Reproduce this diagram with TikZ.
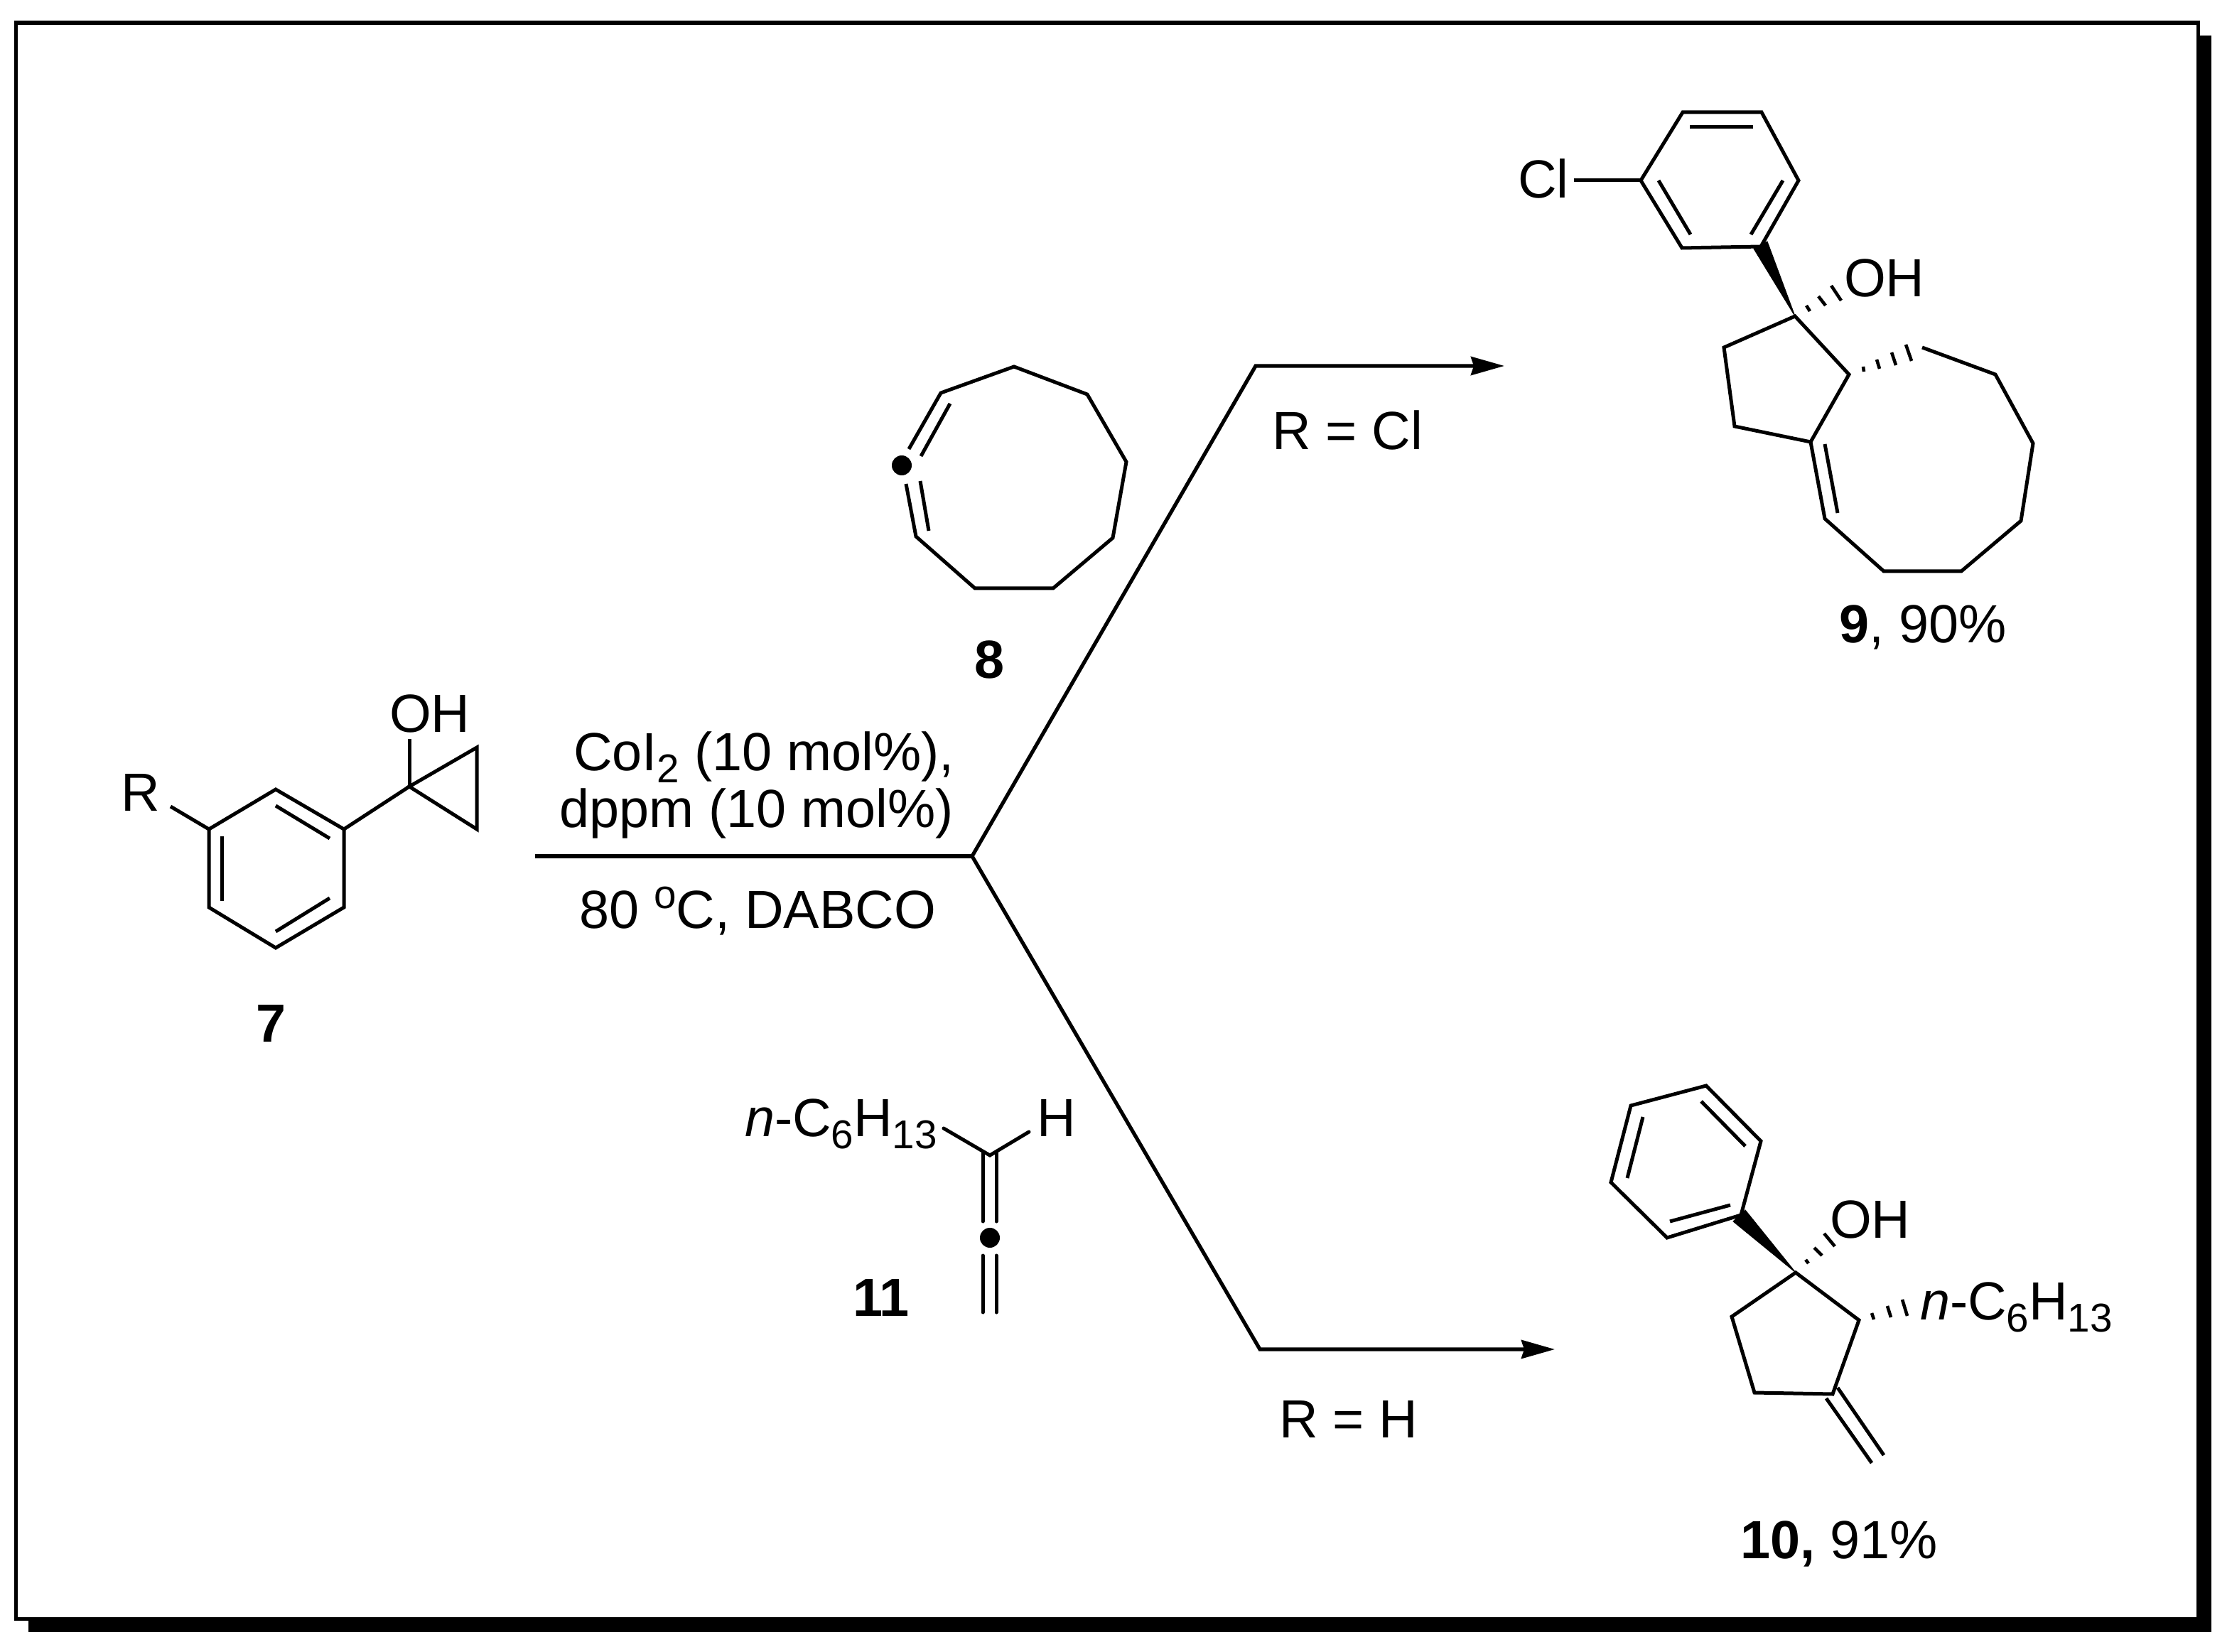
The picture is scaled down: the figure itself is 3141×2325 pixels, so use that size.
\documentclass[tikz,border=0pt]{standalone}
\usepackage{fontspec}
\setmainfont{Liberation Sans}
\usetikzlibrary{arrows.meta}
\newcommand{\lowered}[1]{\raisebox{-5.1pt}{\fontsize{16.1pt}{16pt}\selectfont #1}}
\newcommand{\raisedo}{\raisebox{8pt}{\fontsize{16.1pt}{16pt}\selectfont o}}
\begin{document}
\begin{tikzpicture}[x=0.01cm,y=-0.01cm,
  bond/.style={line width=0.05cm,line join=miter,line cap=butt},
  rnd/.style={line width=0.05cm,line cap=round,line join=miter},
  rxn/.style={line width=0.052cm,line join=miter},
  hash/.style={line width=0.046cm},
  tip/.style={-{Stealth[length=0.47cm,width=0.26cm,inset=0.04cm]}},
  lbl/.style={anchor=base west,inner sep=0pt,outer sep=0pt,font=\fontsize{21.5pt}{24pt}\selectfont},
  wedge/.style={fill=black,draw=black,line width=0.01cm},
  dot/.style={circle,fill=black,inner sep=0pt,minimum size=0.28cm}]
\useasboundingbox (0,0) rectangle (3141,2325);
% frame with shadow
\fill[black] (40,50) rectangle (3112,2297);
\fill[black] (20,29) rectangle (3096,2281);
\fill[white] (25,35) rectangle (3091,2276);

% compound 7
\coordinate (a1) at (388,1111); \coordinate (a2) at (484,1167); \coordinate (a3) at (484,1277);
\coordinate (a4) at (388,1334); \coordinate (a5) at (294,1277); \coordinate (a6) at (294,1167);
\coordinate (ar) at (240,1135); \coordinate (cp1) at (576,1107); \coordinate (cp2) at (671,1052);
\coordinate (cp3) at (671,1167); \coordinate (oh7) at (576,1040);
\draw[bond] (a1)--(a2)--(a3)--(a4)--(a5)--(a6)--cycle;
\draw[bond] (ar)--(a6);
\draw[bond] (a2)--(cp1);
\draw[bond] (cp1)--(cp2)--(cp3)--cycle;
\draw[bond] (oh7)--(cp1);
\coordinate (i1) at (388,1134); \coordinate (i2) at (464,1180);
\coordinate (i3) at (312,1177); \coordinate (i4) at (312,1268);
\coordinate (i5) at (388,1311); \coordinate (i6) at (464,1264);
\draw[bond] (i1)--(i2); \draw[bond] (i3)--(i4); \draw[bond] (i5)--(i6);
\node[lbl] (rlabel) at (170,1142) {R};
\node[lbl] (ohseven) at (548,1031) {OH};
\node[lbl] (seven) at (360,1466) {\textbf{7}};

% conditions
\node[lbl] (coi) at (807,1084) {CoI\lowered{2} (10 mol\%),};
\node[lbl] (dppm) at (787,1165) {dppm (10 mol\%)};
\node[lbl] (temp) at (815,1307) {80 \raisedo C, DABCO};

% reaction lines
\coordinate (start) at (753,1205); \coordinate (fork) at (1368,1205);
\coordinate (ktop) at (1767,515); \coordinate (ttop) at (2117,515);
\coordinate (kbot) at (1773,1899); \coordinate (tbot) at (2188,1899);
\draw[rxn] (start)--(fork);
\draw[rxn,tip] (fork)--(ktop)--(ttop);
\draw[rxn,tip] (fork)--(kbot)--(tbot);
\node[lbl] (rcl) at (1790,633) {R = Cl};
\node[lbl] (rh) at (1800,2023) {R = H};

% compound 8
\coordinate (b1) at (1324,553); \coordinate (b2) at (1427,516); \coordinate (b3) at (1530,555);
\coordinate (b4) at (1585,650); \coordinate (b5) at (1566,757); \coordinate (b6) at (1482,828);
\coordinate (b7) at (1372,828); \coordinate (b8) at (1289,755);
\coordinate (b9) at (1279,632); \coordinate (b10) at (1275,681);
\draw[bond] (b9)--(b1)--(b2)--(b3)--(b4)--(b5)--(b6)--(b7)--(b8)--(b10);
\coordinate (b11) at (1337,568); \coordinate (b12) at (1296,642);
\coordinate (b13) at (1295,677); \coordinate (b14) at (1307,747);
\draw[bond] (b11)--(b12); \draw[bond] (b13)--(b14);
\node[dot] (dot8) at (1269,655) {};
\node[lbl] (eight) at (1371,955) {\textbf{8}};

% compound 11
\coordinate (c1) at (1328,1588); \coordinate (c2) at (1393,1626); \coordinate (c3) at (1448,1593);
\draw[rnd] (c1)--(c2)--(c3);
\coordinate (c4) at (1383,1622); \coordinate (c5) at (1383,1719);
\coordinate (c6) at (1402,1622); \coordinate (c7) at (1402,1719);
\coordinate (c8) at (1383,1767); \coordinate (c9) at (1383,1847);
\coordinate (c10) at (1402,1767); \coordinate (c11) at (1402,1847);
\draw[rnd] (c4)--(c5); \draw[rnd] (c6)--(c7); \draw[rnd] (c8)--(c9); \draw[rnd] (c10)--(c11);
\node[dot] (dot11) at (1393,1742) {};
\node[lbl] (hexyl11) at (1048,1599) {\textit{n}-C\lowered{6}H\lowered{13}};
\node[lbl] (h11) at (1459,1599) {H};
\node[lbl] (eleven) at (1200,1852) {\textbf{11}};

% compound 9
\coordinate (d1) at (2368,158); \coordinate (d2) at (2479,158); \coordinate (d3) at (2531,254);
\coordinate (d4) at (2478,347); \coordinate (d5) at (2367,349); \coordinate (d6) at (2309,254);
\draw[bond] (d1)--(d2)--(d3)--(d4)--(d5)--(d6)--cycle;
\coordinate (d7) at (2378,179); \coordinate (d8) at (2467,179);
\coordinate (d9) at (2334,254); \coordinate (d10) at (2379,330);
\coordinate (d11) at (2509,254); \coordinate (d12) at (2464,330);
\draw[bond] (d7)--(d8); \draw[bond] (d9)--(d10); \draw[bond] (d11)--(d12);
\coordinate (clb) at (2215,254); \draw[bond] (clb)--(d6);
\node[lbl] (cl9) at (2136,279) {Cl};
\coordinate (e1) at (2526,445); \coordinate (e2) at (2426,489); \coordinate (e3) at (2441,600);
\coordinate (e4) at (2548,622); \coordinate (e5) at (2602,527);
\draw[bond] (e1)--(e2)--(e3)--(e4)--(e5)--cycle;
\coordinate (w1) at (2468,350); \coordinate (w2) at (2487,340);
\fill[wedge] (e1)--(w1)--(w2)--cycle;
\draw[hash] (2542,430)--(2547,438) (2559,417)--(2569,430) (2577,402)--(2591,423);
\node[lbl] (oh9) at (2595,418) {OH};
\coordinate (f1) at (2568,730); \coordinate (f2) at (2651,804); \coordinate (f3) at (2760,804);
\coordinate (f4) at (2844,733); \coordinate (f5) at (2861,624); \coordinate (f6) at (2808,527);
\coordinate (f7) at (2705,489);
\draw[bond] (e4)--(f1)--(f2)--(f3)--(f4)--(f5)--(f6)--(f7);
\coordinate (f8) at (2568,625); \coordinate (f9) at (2586,722);
\draw[bond] (f8)--(f9);
\draw[hash] (2622,516)--(2623,523) (2641,506)--(2645,519) (2662,496)--(2668,514) (2682,485)--(2690,508);
\node[lbl] (yield9) at (2588,905) {\textbf{9}, 90\%};

% compound 10
\coordinate (g1) at (2401,1528); \coordinate (g2) at (2295,1556); \coordinate (g3) at (2267,1664);
\coordinate (g4) at (2346,1742); \coordinate (g5) at (2450,1710); \coordinate (g6) at (2478,1606);
\draw[bond] (g1)--(g2)--(g3)--(g4)--(g5)--(g6)--cycle;
\coordinate (g7) at (2394,1550); \coordinate (g8) at (2456,1613);
\coordinate (g9) at (2312,1572); \coordinate (g10) at (2290,1658);
\coordinate (g11) at (2350,1719); \coordinate (g12) at (2435,1696);
\draw[bond] (g7)--(g8); \draw[bond] (g9)--(g10); \draw[bond] (g11)--(g12);
\coordinate (k1) at (2527,1791); \coordinate (k2) at (2437,1853); \coordinate (k3) at (2469,1960);
\coordinate (k4) at (2579,1962); \coordinate (k5) at (2616,1858);
\draw[bond] (k1)--(k2)--(k3)--(k4)--(k5)--cycle;
\coordinate (w3) at (2439,1719); \coordinate (w4) at (2456,1703);
\fill[wedge] (k1)--(w3)--(w4)--cycle;
\coordinate (m1) at (2570,1968); \coordinate (m2) at (2634,2059);
\coordinate (m3) at (2586,1953); \coordinate (m4) at (2651,2048);
\draw[bond] (m1)--(m2); \draw[bond] (m3)--(m4);
\draw[hash] (2541,1773)--(2545,1778) (2553,1756)--(2564,1767) (2567,1736)--(2582,1754);
\draw[hash] (2634,1848)--(2637,1857) (2656,1838)--(2661,1854) (2677,1829)--(2684,1852);
\node[lbl] (oh10) at (2575,1742) {OH};
\node[lbl] (hexyl10) at (2702,1857) {\textit{n}-C\lowered{6}H\lowered{13}};
\node[lbl] (yield10) at (2449,2193) {\textbf{10,} 91\%};
\end{tikzpicture}
\end{document}
